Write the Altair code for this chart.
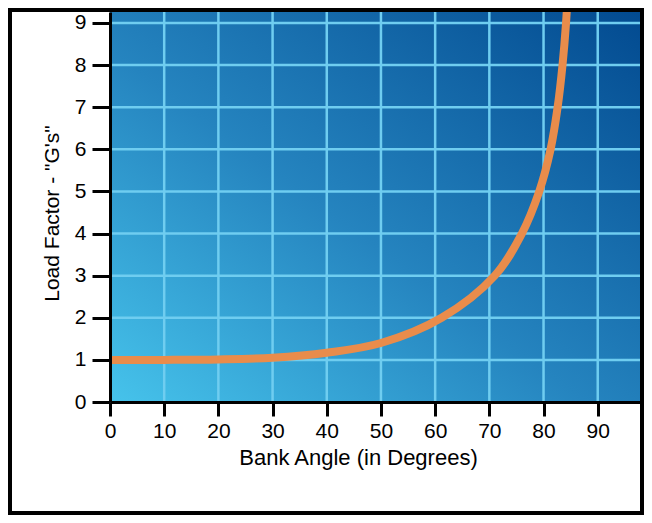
import altair as alt
import pandas as pd

# values (points where the curve crosses grid lines)
bank_angle = [0, 10, 20, 30, 40, 50, 61.2, 71, 76, 79.2, 81.3, 82.6, 83.5, 84.15, 84.5]
load_factor = [1.0, 1.0, 1.01, 1.05, 1.17, 1.40, 2.0, 3.0, 4.0, 5.0, 6.0, 7.0, 8.0, 9.0, 9.8]

x_ticks = [0, 10, 20, 30, 40, 50, 60, 70, 80, 90]
y_ticks = [0, 1, 2, 3, 4, 5, 6, 7, 8, 9]
x_grid = [10, 20, 30, 40, 50, 60, 70, 80, 90]
y_grid = [1, 2, 3, 4, 5, 6, 7, 8, 9]

X_MAX = 97.8
Y_MAX = 9.26
W, H = 530, 390
PAD = {"left": 102, "top": 4, "right": 4, "bottom": 113}

FONT = "Liberation Sans"
GRID = "#6fcdf0"

curve = pd.DataFrame({"angle": bank_angle, "g": load_factor})

xscale = alt.Scale(domain=[0, X_MAX], nice=False, zero=False)
yscale = alt.Scale(domain=[0, Y_MAX], nice=False, zero=False)

xaxis = alt.Axis(values=x_ticks, title="Bank Angle (in Degrees)", grid=False,
                 tickSize=14, tickWidth=3, tickColor="black", domainWidth=3,
                 domainColor="black", labelFontSize=21, labelFont=FONT,
                 labelColor="black", labelPadding=4, titleFont=FONT,
                 titleFontSize=22, titleFontWeight="normal", titleColor="black",
                 titlePadding=6, titleX=248, zindex=1, labelFlush=False)
yaxis = alt.Axis(values=y_ticks, title='Load Factor - "G\'s"', grid=False,
                 tickSize=18, tickWidth=3, tickColor="black", domainWidth=3,
                 domainColor="black", labelFontSize=21, labelFont=FONT,
                 labelColor="black", labelPadding=6, titleFont=FONT,
                 titleFontSize=21, titleFontWeight="normal", titleColor="black",
                 titlePadding=12, titleY=201, zindex=1, labelFlush=False)

grad = alt.LinearGradient(
    gradient="linear",
    stops=[alt.GradientStop(offset=0, color="#46c3eb"),
           alt.GradientStop(offset=0.45, color="#2584bf"),
           alt.GradientStop(offset=1, color="#024a90")],
    x1=0, y1=1, x2=1, y2=0)

one = pd.DataFrame({"a": [0]})

background = alt.Chart(one).mark_rect(fill=grad, strokeWidth=0).encode(
    x=alt.value(0), x2=alt.value(W), y=alt.value(0), y2=alt.value(H))

vgrid = alt.Chart(pd.DataFrame({"v": x_grid})).mark_rule(
    color=GRID, strokeWidth=2.5).encode(x=alt.X("v:Q", scale=xscale, axis=xaxis))
hgrid = alt.Chart(pd.DataFrame({"h": y_grid})).mark_rule(
    color=GRID, strokeWidth=2.5).encode(y=alt.Y("h:Q", scale=yscale, axis=yaxis))

line = alt.Chart(curve).mark_line(
    color="#e98c4b", strokeWidth=8, interpolate="catmull-rom", clip=True,
    strokeCap="butt").encode(
    x=alt.X("angle:Q", scale=xscale, axis=xaxis),
    y=alt.Y("g:Q", scale=yscale, axis=yaxis))

frame = alt.Chart(one).mark_rect(filled=False, stroke="black", strokeWidth=4).encode(
    x=alt.value(-PAD["left"] + 2), x2=alt.value(W + PAD["right"] - 2),
    y=alt.value(-PAD["top"] + 2), y2=alt.value(H + PAD["bottom"] - 2))

chart = alt.layer(background, vgrid, hgrid, line, frame).properties(
    width=W, height=H, padding=PAD,
    autosize=alt.AutoSizeParams(type="none"),
    background="white",
).configure_view(strokeWidth=0)

chart.save("out.html", embed_options={"renderer": "svg", "actions": False})
